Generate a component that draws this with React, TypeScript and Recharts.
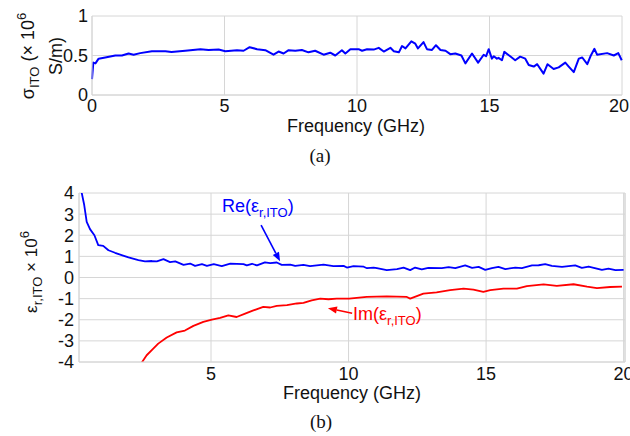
import React from "react";
import { LineChart, Line, XAxis, YAxis, CartesianGrid, ReferenceLine } from "recharts";

// ---- (a) conductivity sigma_ITO (x 10^6 S/m) ----
const sigmaFreq = [0.0, 0.05, 0.13, 0.25, 0.5, 0.88, 1.13, 1.38, 1.57, 1.82, 2.26, 2.77, 3.0, 3.52, 4.09, 4.4, 4.78, 5.03, 5.47, 5.72, 5.95, 6.23, 6.54, 6.85, 7.04, 7.23, 7.42, 7.67, 7.92, 8.17, 8.42, 8.74, 8.99, 9.18, 9.43, 9.56, 9.75, 10.06, 10.19, 10.38, 10.63, 10.82, 11.01, 11.26, 11.39, 11.58, 11.7, 11.83, 12.05, 12.2, 12.3, 12.51, 12.64, 12.83, 12.98, 13.15, 13.34, 13.52, 13.71, 13.94, 14.09, 14.34, 14.57, 14.78, 14.87, 14.97, 15.09, 15.16, 15.28, 15.34, 15.47, 15.56, 15.78, 15.97, 16.16, 16.35, 16.48, 16.67, 16.8, 17.04, 17.19, 17.42, 17.61, 17.86, 17.99, 18.18, 18.37, 18.5, 18.69, 18.81, 18.96, 19.06, 19.44, 19.69, 19.86, 19.99];
const sigmaValues = [0.2, 0.41, 0.4, 0.46, 0.475, 0.5, 0.5, 0.525, 0.51, 0.53, 0.555, 0.555, 0.545, 0.56, 0.58, 0.57, 0.575, 0.555, 0.567, 0.56, 0.605, 0.58, 0.567, 0.51, 0.55, 0.525, 0.567, 0.56, 0.57, 0.54, 0.56, 0.51, 0.535, 0.5, 0.567, 0.525, 0.58, 0.58, 0.56, 0.58, 0.575, 0.597, 0.55, 0.597, 0.555, 0.54, 0.62, 0.59, 0.68, 0.65, 0.59, 0.67, 0.58, 0.57, 0.63, 0.57, 0.56, 0.517, 0.525, 0.5, 0.4, 0.525, 0.41, 0.51, 0.49, 0.58, 0.46, 0.49, 0.46, 0.47, 0.44, 0.546, 0.49, 0.44, 0.485, 0.46, 0.38, 0.36, 0.39, 0.27, 0.39, 0.33, 0.35, 0.41, 0.36, 0.29, 0.46, 0.475, 0.39, 0.49, 0.585, 0.51, 0.53, 0.5, 0.53, 0.44];

// ---- (b) permittivity eps_r,ITO (x 10^6) ----
const reFreq = [0.25, 0.3, 0.39, 0.48, 0.6, 0.76, 0.9, 1.08, 1.27, 1.51, 1.75, 2.0, 2.36, 2.6, 2.85, 3.03, 3.27, 3.51, 3.7, 4.0, 4.24, 4.42, 4.67, 4.85, 5.1, 5.39, 5.7, 6.18, 6.3, 6.49, 6.67, 6.96, 7.15, 7.39, 7.57, 7.88, 8.06, 8.36, 8.6, 9.09, 9.45, 9.82, 9.94, 10.18, 10.55, 10.67, 10.91, 11.03, 11.39, 11.76, 12.0, 12.24, 12.42, 12.66, 12.9, 13.39, 13.64, 13.88, 14.24, 14.49, 14.73, 14.97, 15.21, 15.45, 15.7, 16.06, 16.3, 16.67, 16.91, 17.15, 17.39, 17.76, 18.24, 18.48, 18.73, 19.21, 19.45, 19.7, 20.0];
const reValues = [4.3, 4.0, 3.43, 2.63, 2.29, 2.0, 1.53, 1.5, 1.29, 1.17, 1.06, 0.95, 0.82, 0.76, 0.78, 0.76, 0.87, 0.73, 0.76, 0.6, 0.66, 0.55, 0.63, 0.55, 0.63, 0.54, 0.66, 0.63, 0.57, 0.65, 0.57, 0.72, 0.68, 0.71, 0.6, 0.61, 0.55, 0.6, 0.54, 0.61, 0.54, 0.55, 0.47, 0.54, 0.51, 0.44, 0.47, 0.44, 0.35, 0.4, 0.47, 0.35, 0.47, 0.38, 0.46, 0.44, 0.49, 0.44, 0.57, 0.46, 0.5, 0.36, 0.44, 0.5, 0.4, 0.47, 0.44, 0.57, 0.58, 0.63, 0.55, 0.5, 0.57, 0.46, 0.52, 0.36, 0.42, 0.35, 0.36];
const imFreq = [2.3, 2.48, 2.66, 2.9, 3.08, 3.39, 3.75, 4.05, 4.36, 4.72, 5.03, 5.33, 5.63, 5.93, 6.24, 6.54, 6.9, 7.15, 7.39, 7.76, 8.12, 8.36, 8.66, 8.97, 9.27, 9.57, 10.02, 10.66, 11.39, 12.12, 12.24, 12.72, 13.2, 13.69, 14.18, 14.54, 14.9, 15.15, 15.63, 16.12, 16.48, 17.09, 17.57, 18.18, 18.67, 19.03, 19.51, 19.94];
const imValues = [-4.3, -4.03, -3.68, -3.37, -3.13, -2.84, -2.6, -2.51, -2.29, -2.1, -1.99, -1.91, -1.79, -1.87, -1.71, -1.56, -1.39, -1.42, -1.34, -1.31, -1.23, -1.2, -1.08, -1.0, -1.03, -1.0, -1.0, -0.92, -0.89, -0.92, -1.0, -0.76, -0.7, -0.6, -0.53, -0.57, -0.68, -0.6, -0.53, -0.53, -0.41, -0.33, -0.4, -0.32, -0.43, -0.5, -0.45, -0.43];

const topXTicks = [0, 5, 10, 15, 20];
const topYTicks = [0, 0.5, 1];
const botXTicks = [5, 10, 15, 20];
const botYTicks = [-4, -3, -2, -1, 0, 1, 2, 3, 4];
const botXDomain = [0.2, 20.05];

// annotation arrows (data coordinates of panel b)
const reArrow = [{ x: 6.82, y: 2.48 }, { x: 7.51, y: 0.77 }];
const imArrow = [{ x: 10.13, y: -1.69 }, { x: 9.25, y: -1.45 }];

const sigmaData = sigmaFreq.map((f, i) => ({ f, v: sigmaValues[i] }));
const reData = reFreq.map((f, i) => ({ f, v: reValues[i] }));
const imData = imFreq.map((f, i) => ({ f, v: imValues[i] }));

const FONT = "'Liberation Sans', Arial, sans-serif";
const SERIF = "'Liberation Serif', 'Times New Roman', serif";
const GRID = "#d6d6d6";
const TICK = { fill: "#111", fontSize: 18, fontFamily: FONT };

// x tick that keeps its label inside the page's right edge
const TopXTick = (props: any) => {
  const { x, y, payload } = props;
  const label = String(payload.value);
  const half = label.length * 5;
  const cx = Math.min(x, 629 - half);
  return (
    <text x={cx} y={y} dy="0.71em" textAnchor="middle" fill="#111" fontSize={18} fontFamily={FONT}>
      {label}
    </text>
  );
};

const arrowShape = (color: string) => (props: any) => {
  const { x1, y1, x2, y2 } = props;
  if ([x1, y1, x2, y2].some((n) => typeof n !== "number" || isNaN(n))) return <g />;
  const ang = Math.atan2(y2 - y1, x2 - x1);
  const L = 9, W = 3.5;
  const bx = x2 - L * Math.cos(ang), by = y2 - L * Math.sin(ang);
  const px = -Math.sin(ang) * W, py = Math.cos(ang) * W;
  return (
    <g>
      <line x1={x1} y1={y1} x2={bx} y2={by} stroke={color} strokeWidth={1.6} />
      <polygon points={`${x2},${y2} ${bx + px},${by + py} ${bx - px},${by - py}`} fill={color} />
    </g>
  );
};

export default function App() {
  return (
    <div style={{ position: "absolute", left: 0, top: 0, width: 630, height: 436, background: "#fff", fontFamily: FONT }}>
      <div style={{ position: "absolute", left: 0, top: 0 }}>
        <LineChart width={630} height={140} data={sigmaData} margin={{ top: 16, right: 8, bottom: 15, left: 0 }}>
          <CartesianGrid stroke={GRID} />
          <XAxis type="number" dataKey="f" domain={[0, 20]} ticks={topXTicks} tickLine={false} tickSize={2} tickMargin={2}
            axisLine={{ stroke: GRID }} tick={<TopXTick />} height={30} interval={0} />
          <YAxis type="number" domain={[0, 1]} ticks={topYTicks} tickLine={false} tickSize={2} tickMargin={2}
            axisLine={{ stroke: GRID }} tick={TICK} width={92} interval={0} />
          <Line type="linear" dataKey="v" stroke="#0000ff" strokeWidth={2} dot={false} isAnimationActive={false} strokeLinejoin="round" />
        </LineChart>
      </div>
      <div style={{ position: "absolute", left: 0, top: 180 }}>
        <LineChart width={630} height={256} margin={{ top: 13, right: 5, bottom: 44, left: 0 }}>
          <CartesianGrid stroke={GRID} />
          <XAxis type="number" dataKey="f" domain={botXDomain} ticks={botXTicks} tickLine={false} tickSize={3} tickMargin={2}
            axisLine={{ stroke: GRID }} tick={TICK} height={30} interval={0} allowDataOverflow />
          <YAxis type="number" dataKey="v" domain={[-4, 4]} ticks={botYTicks} tickLine={false} tickSize={3} tickMargin={2}
            axisLine={{ stroke: GRID }} tick={TICK} width={79} interval={0} allowDataOverflow />
          <ReferenceLine x={botXDomain[1]} stroke={GRID} />
          <Line data={reData} type="linear" dataKey="v" stroke="#0000ff" strokeWidth={1.8} dot={false} isAnimationActive={false} strokeLinejoin="round" />
          <Line data={imData} type="linear" dataKey="v" stroke="#ff0000" strokeWidth={1.8} dot={false} isAnimationActive={false} strokeLinejoin="round" />
          <ReferenceLine segment={reArrow} shape={arrowShape("#0000ff")} ifOverflow="visible" />
          <ReferenceLine segment={imArrow} shape={arrowShape("#ff0000")} ifOverflow="visible" />
        </LineChart>
      </div>
      <svg width={630} height={436} style={{ position: "absolute", left: 0, top: 0, pointerEvents: "none" }}
        fontFamily={FONT} fontSize={18}>
        {/* top y label */}
        <text transform="translate(34,56) rotate(-90)" textAnchor="middle" fill="#111">
          σ<tspan dy={5} fontSize={13}>ITO</tspan><tspan dy={-5}> (× 10</tspan><tspan dy={-8} fontSize={13}>6</tspan>
        </text>
        <text transform="translate(62,56) rotate(-90)" textAnchor="middle" fill="#111">S/m)</text>
        <text x={356} y={132} textAnchor="middle" fill="#111">Frequency (GHz)</text>
        <text x={320} y={162} textAnchor="middle" fontFamily={SERIF} fontSize={19} fill="#111">(a)</text>
        {/* bottom y label */}
        <text transform="translate(37,272) rotate(-90)" textAnchor="middle" fill="#111" fontSize={17}>
          ε<tspan dy={5} fontSize={13}>r,ITO</tspan><tspan dy={-5}> × 10</tspan><tspan dy={-8} fontSize={13}>6</tspan>
        </text>
        <text x={352} y={399} textAnchor="middle" fill="#111">Frequency (GHz)</text>
        <text x={321} y={428} textAnchor="middle" fontFamily={SERIF} fontSize={19} fill="#111">(b)</text>
        {/* annotations */}
        <text x={222} y={212} fill="#0000ff" fontSize={18}>
          Re(ε<tspan dy={5} fontSize={13}>r,ITO</tspan><tspan dy={-5}>)</tspan>
        </text>
        <text x={353} y={320} fill="#ff0000" fontSize={18}>
          Im(ε<tspan dy={5} fontSize={13}>r,ITO</tspan><tspan dy={-5}>)</tspan>
        </text>
      </svg>
    </div>
  );
}
